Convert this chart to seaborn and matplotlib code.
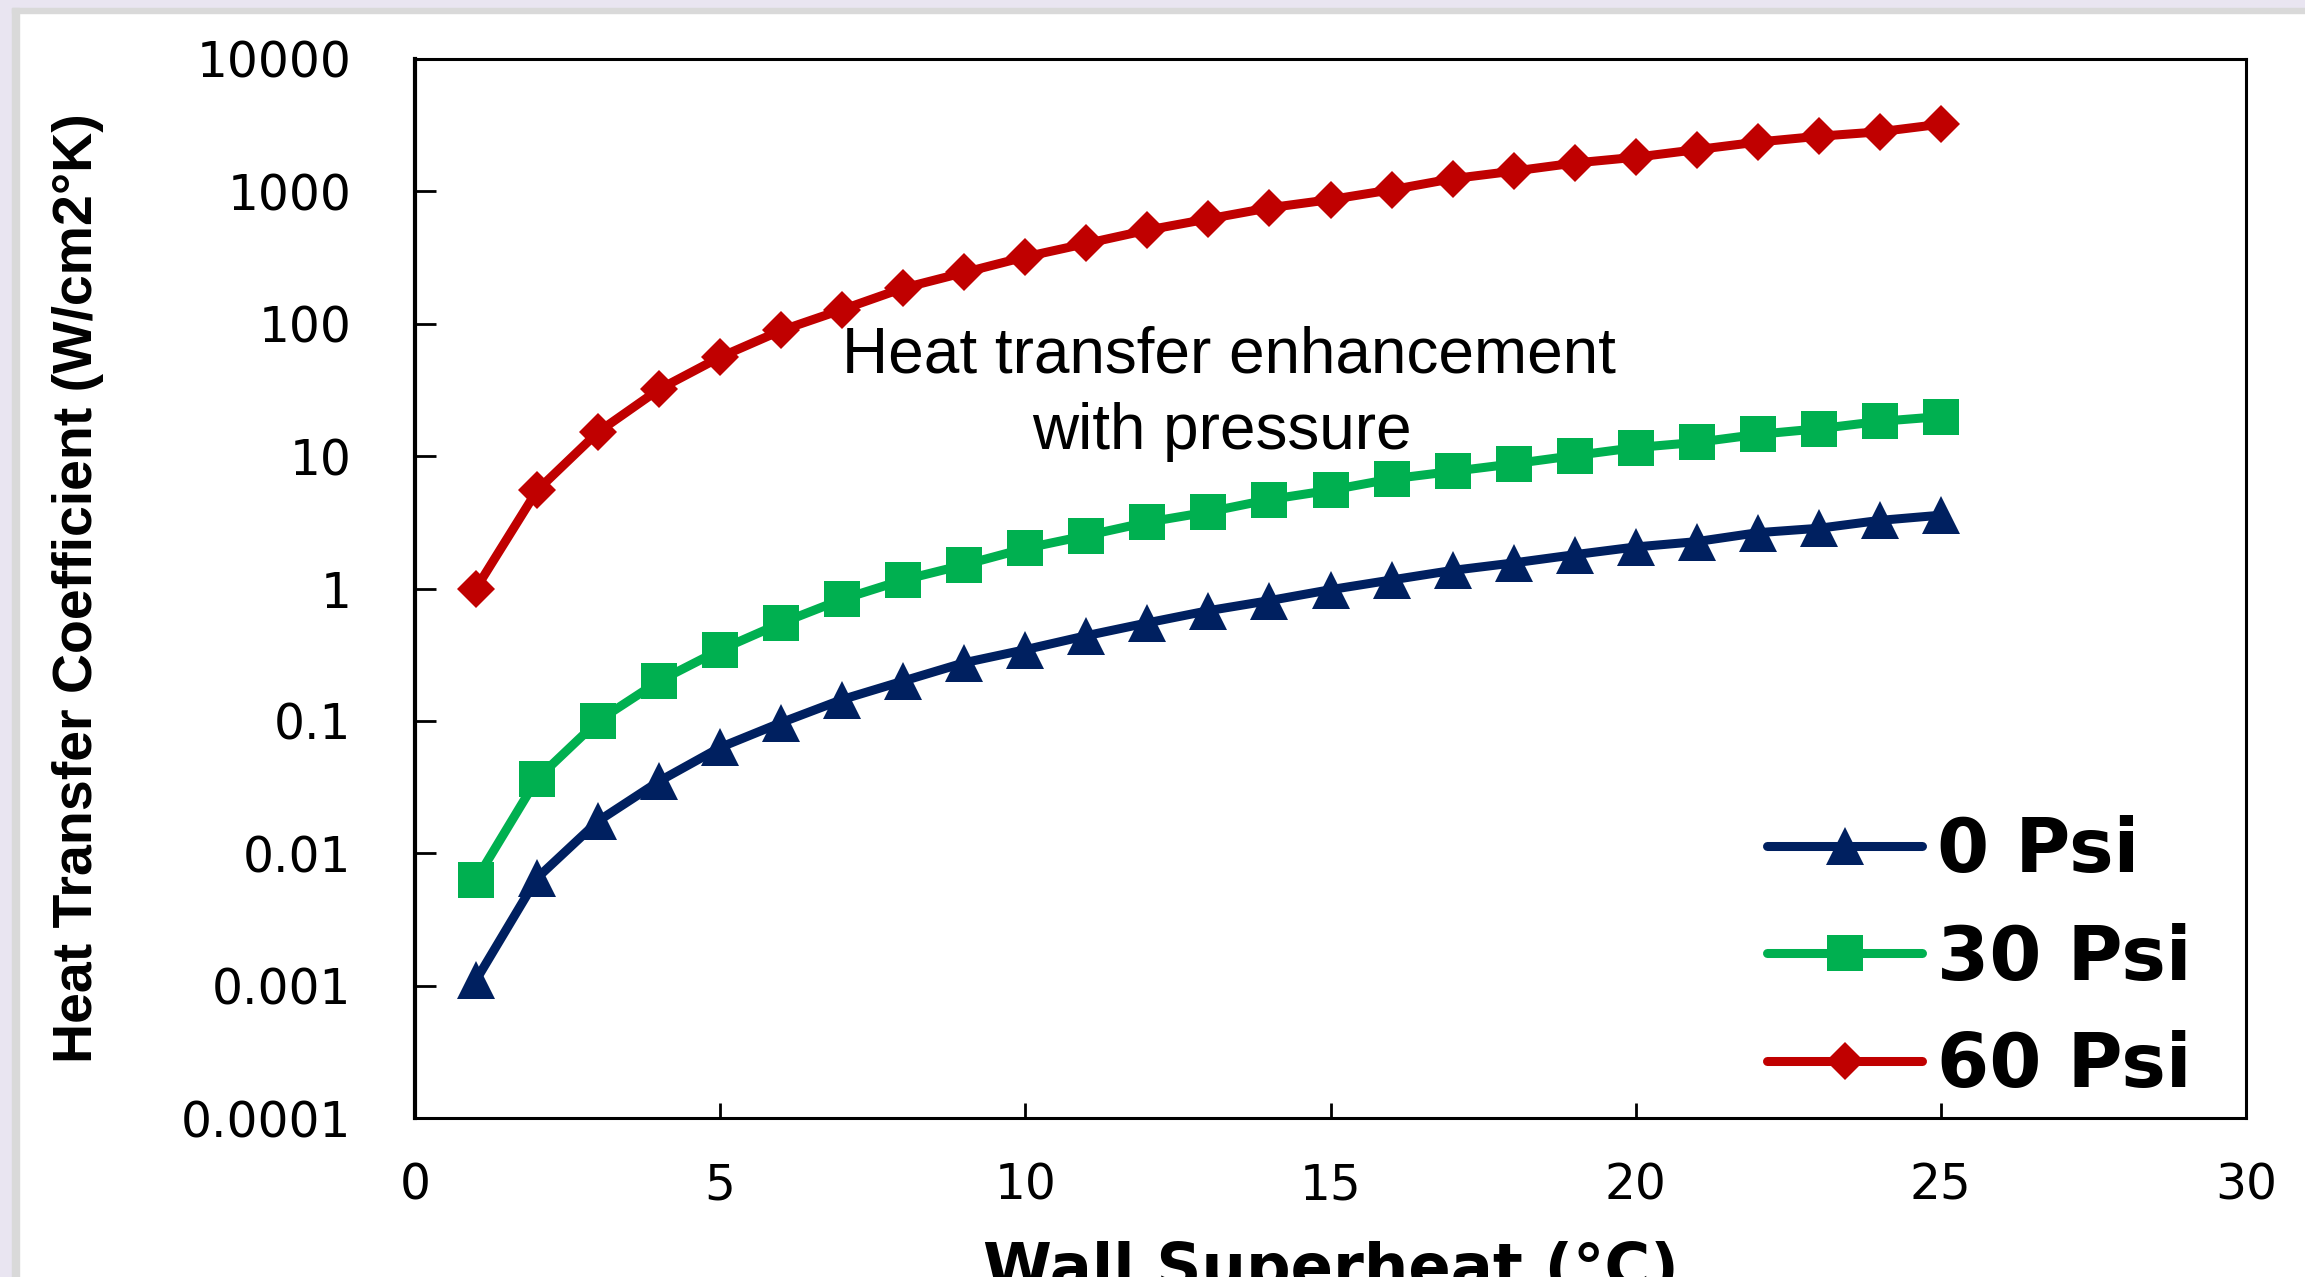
import matplotlib
matplotlib.use("Agg")
import matplotlib.pyplot as plt
from matplotlib.patches import Rectangle
from matplotlib.ticker import FixedLocator, FixedFormatter, NullLocator
import pandas as pd
import seaborn as sns

# ---------------- data ----------------
wall_superheat = [1, 2, 3, 4, 5, 6, 7, 8, 9, 10, 11, 12, 13,
                  14, 15, 16, 17, 18, 19, 20, 21, 22, 23, 24, 25]
h_0psi = [0.0011, 0.0065, 0.0175, 0.035, 0.063, 0.097, 0.145, 0.20, 0.275,
          0.345, 0.44, 0.55, 0.68, 0.81, 0.98, 1.16, 1.37, 1.56, 1.80,
          2.06, 2.26, 2.64, 2.85, 3.27, 3.58]
h_30psi = [0.0063, 0.0365, 0.10, 0.20, 0.344, 0.548, 0.83, 1.16, 1.51,
           2.01, 2.51, 3.17, 3.79, 4.70, 5.53, 6.73, 7.67, 8.75, 10.1,
           11.6, 12.7, 14.6, 16.1, 18.3, 19.9]
h_60psi = [1.0, 5.5, 15.2, 32, 56, 89, 128, 186, 244, 320, 404, 510, 620,
           752, 867, 1028, 1247, 1422, 1637, 1811, 2067, 2358, 2608, 2820, 3220]
series_labels = ["0 Psi", "30 Psi", "60 Psi"]

x_ticks = [0, 5, 10, 15, 20, 25, 30]
y_ticks = [0.0001, 0.001, 0.01, 0.1, 1, 10, 100, 1000, 10000]
y_tick_labels = ["0.0001", "0.001", "0.01", "0.1", "1", "10", "100", "1000", "10000"]
x_label = "Wall Superheat (°C)"
y_label = "Heat Transfer Coefficient (W/cm2°K)"
annotation_lines = ["Heat transfer enhancement", "with pressure"]

df = pd.DataFrame({
    "x": wall_superheat * 3,
    "h": h_0psi + h_30psi + h_60psi,
    "series": [series_labels[0]] * len(h_0psi)
              + [series_labels[1]] * len(h_30psi)
              + [series_labels[2]] * len(h_60psi),
})

# ---------------- style ----------------
sns.set_style("white")
plt.rcParams["font.family"] = ["DejaVu Sans"]
plt.rcParams["text.color"] = "black"
plt.rcParams["axes.labelcolor"] = "black"
plt.rcParams["xtick.color"] = "black"
plt.rcParams["ytick.color"] = "black"

W, H = 2305, 1277
fig = plt.figure(figsize=(W / 100, H / 100), dpi=100)
fig.patch.set_facecolor("white")

# frame bands of the original slide
lav, gray = "#E9E5F1", "#D9D9D9"
fig.patches.extend([
    Rectangle((0, 1 - 8 / H), 1, 8 / H, transform=fig.transFigure, color=lav, zorder=-5),
    Rectangle((0, 0), 12 / W, 1, transform=fig.transFigure, color=lav, zorder=-5),
    Rectangle((12 / W, 1 - 13 / H), 1, 5 / H, transform=fig.transFigure, color=gray, zorder=-5),
    Rectangle((12 / W, 0), 7 / W, 1 - 8 / H, transform=fig.transFigure, color=gray, zorder=-5),
])

ax = fig.add_axes([415 / W, 1 - 1118 / H, 1831 / W, 1059 / H])

palette = {"0 Psi": "#002060", "30 Psi": "#00B050", "60 Psi": "#C00000"}
markers = {"0 Psi": "^", "30 Psi": "s", "60 Psi": "D"}
sns.lineplot(data=df, x="x", y="h", hue="series", style="series",
             hue_order=series_labels, style_order=series_labels,
             palette=palette, markers=markers, dashes=False,
             linewidth=6.5, markersize=26, markeredgewidth=0,
             errorbar=None, sort=False, legend=False, ax=ax)

msizes = {"0 Psi": 28, "30 Psi": 26.5, "60 Psi": 19.5}
for line, lab in zip(ax.lines, series_labels):
    line.set_markersize(msizes[lab])
    line.set_markeredgewidth(0)
    line.set_linewidth(6.5)
    line.set_solid_joinstyle("round")

ax.set_yscale("log")
ax.set_xlim(0, 30)
ax.set_ylim(1e-4, 1e4)
ax.xaxis.set_major_locator(FixedLocator(x_ticks))
ax.yaxis.set_major_locator(FixedLocator(y_ticks))
ax.yaxis.set_major_formatter(FixedFormatter(y_tick_labels))
ax.yaxis.set_minor_locator(NullLocator())
ax.xaxis.set_minor_locator(NullLocator())

ax.tick_params(axis="y", which="major", direction="in", length=15, width=2,
               pad=46, labelsize=35, left=True, right=False)
ax.tick_params(axis="x", which="major", direction="in", length=10.5, width=2,
               pad=31, labelsize=35, bottom=True, top=False)

for s in ["top", "right", "bottom"]:
    ax.spines[s].set_linewidth(2.2)
    ax.spines[s].set_color("black")
ax.spines["left"].set_linewidth(3)
ax.spines["left"].set_color("black")

ax.set_xlabel(x_label, fontsize=45, fontweight="bold", family=["DejaVu Sans"])
ax.xaxis.set_label_coords(0.5, -0.1605)
ax.xaxis.label.set_verticalalignment("baseline")

ax.set_ylabel(y_label, fontsize=40, fontweight="bold",
              family=["Liberation Sans", "DejaVu Sans"])
ax.yaxis.set_label_coords(-0.1699, 0.5)

ax.text(0.4446, 0.7035, annotation_lines[0], transform=ax.transAxes,
        ha="center", va="baseline", fontsize=46, family=["Liberation Sans", "DejaVu Sans"])
ax.text(0.4408, 0.6317, annotation_lines[1], transform=ax.transAxes,
        ha="center", va="baseline", fontsize=46, family=["Liberation Sans", "DejaVu Sans"])

ax.legend(ax.lines[:3], series_labels, loc="upper left",
          bbox_to_anchor=(0.7384, 0.2861), frameon=False,
          borderpad=0, borderaxespad=0, handlelength=2.07, handletextpad=0.19,
          labelspacing=0.46,
          prop={"family": "DejaVu Sans", "weight": "bold", "size": 54})

fig.savefig("out.png", dpi=100)
